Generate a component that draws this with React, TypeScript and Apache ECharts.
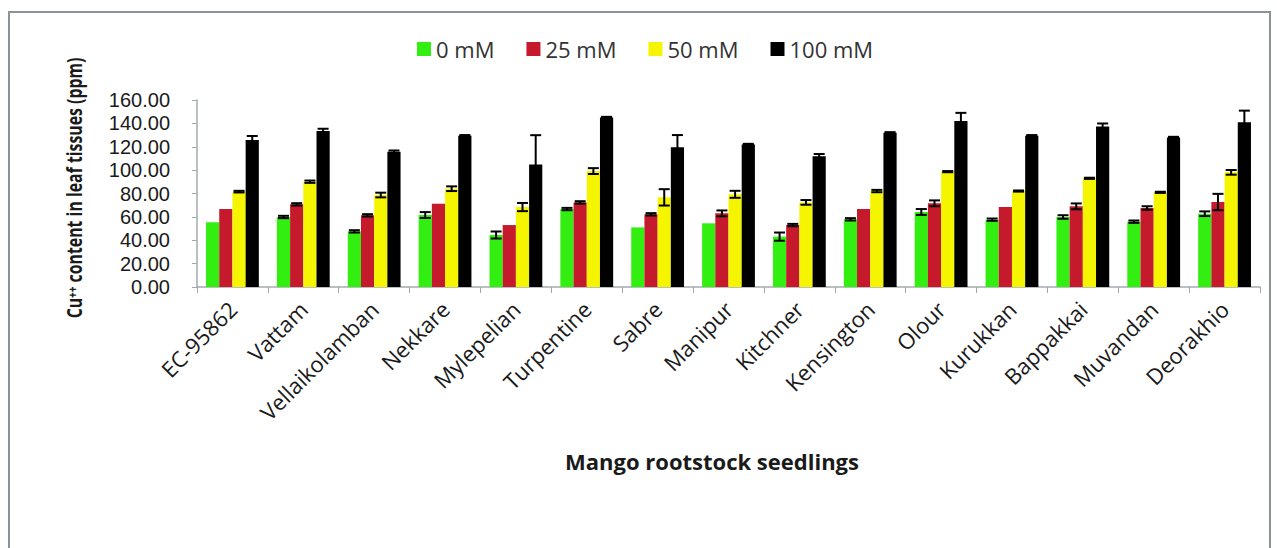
import React, { useEffect, useRef } from "react";
import * as echarts from "echarts";

const categories = [
  "EC-95862", "Vattam", "Vellaikolamban", "Nekkare", "Mylepelian", "Turpentine", "Sabre",
  "Manipur", "Kitchner", "Kensington", "Olour", "Kurukkan", "Bappakkai", "Muvandan", "Deorakhio",
];
const seriesNames = ["0 mM", "25 mM", "50 mM", "100 mM"];
const values0 = [55.3, 59.9, 47.6, 61.6, 44.5, 66.7, 51.0, 54.5, 43.1, 57.9, 64.2, 57.6, 59.9, 55.9, 62.7];
const err0 = [0, 1, 1, 2.5, 3, 1, 0, 0, 3.5, 1, 2.5, 1, 1.5, 1, 2];
const values25 = [66.7, 70.7, 61.3, 71.3, 53.0, 72.4, 62.2, 63.0, 53.0, 66.7, 71.6, 68.4, 69.0, 67.6, 72.7];
const err25 = [0, 1, 1, 0, 0, 1, 1, 2.5, 1, 0, 2.5, 0, 2.5, 1.5, 7];
const values50 = [81.6, 90.1, 78.7, 84.1, 68.4, 99.2, 76.7, 79.3, 72.4, 82.1, 98.7, 82.1, 93.0, 81.0, 98.1];
const err50 = [0.7, 1, 2, 2, 3.5, 2.5, 7, 3, 2, 1, 0.5, 0.5, 0.5, 0.5, 2];
const values100 = [125.7, 133.4, 115.8, 129.5, 104.9, 145.1, 119.5, 122.0, 111.8, 132.0, 142.0, 129.5, 137.4, 128.0, 140.9];
const err100 = [3.5, 2, 1, 0.5, 25, 0.5, 10.5, 0.5, 2, 0.5, 7, 0.5, 2.5, 0.5, 10];

const colors = ["#33ee11", "#c41a2c", "#f5f500", "#000000"];
const allValues = [values0, values25, values50, values100];
const allErrors = [err0, err25, err50, err100];

const BAR_W = 13.2;

export default function App() {
  const ref = useRef<HTMLDivElement>(null);
  useEffect(() => {
    if (!ref.current) return;
    const chart = echarts.init(ref.current, null, { renderer: "svg" });
    const font = "'Open Sans', sans-serif";

    const barSeries = seriesNames.map((name, i) => ({
      name,
      type: "bar",
      data: allValues[i],
      barWidth: BAR_W,
      barGap: "0%",
      itemStyle: { color: colors[i] },
      z: 2,
    }));

    const errSeries = seriesNames.map((name, i) => ({
      name: name + " error",
      type: "custom",
      z: 5,
      data: allValues[i].map((v, k) => [k, v, allErrors[i][k]]),
      renderItem: (params: any, api: any) => {
        const idx = api.value(0);
        const v = api.value(1);
        const e = api.value(2);
        if (!e) return null;
        const top = api.coord([idx, v + e]);
        const bot = api.coord([idx, v - e]);
        const x = top[0] + (i - 1.5) * BAR_W;
        const cap = 5.5;
        const style = { stroke: "#000", lineWidth: 2, fill: null };
        return {
          type: "group",
          children: [
            { type: "line", shape: { x1: x, y1: top[1], x2: x, y2: bot[1] }, style },
            { type: "line", shape: { x1: x - cap, y1: top[1], x2: x + cap, y2: top[1] }, style },
            { type: "line", shape: { x1: x - cap, y1: bot[1], x2: x + cap, y2: bot[1] }, style },
          ],
        };
      },
    }));

    chart.setOption({
      animation: false,
      backgroundColor: "#ffffff",
      legend: {
        data: seriesNames,
        left: 412,
        top: 33,
        itemWidth: 14,
        itemHeight: 14,
        itemGap: 32,
        icon: "rect",
        textStyle: { fontFamily: font, fontSize: 22, color: "#333" },
      },
      grid: { left: 197, right: 17, top: 100, bottom: 261 },
      xAxis: {
        type: "category",
        data: categories,
        axisLine: { lineStyle: { color: "#a3aaae", width: 1.5 } },
        axisTick: { show: true, length: 6, lineStyle: { color: "#a3aaae" } },
        axisLabel: {
          rotate: 45,
          interval: 0,
          margin: 18,
          fontFamily: font,
          fontSize: 22,
          color: "#1a1a1a",
        },
      },
      yAxis: {
        type: "value",
        min: 0,
        max: 160,
        interval: 20,
        axisLine: { show: true, lineStyle: { color: "#a3aaae", width: 1.5 } },
        axisTick: { show: true, length: 5, lineStyle: { color: "#a3aaae" } },
        splitLine: { show: false },
        axisLabel: {
          margin: 27,
          fontFamily: "'Liberation Sans', Arial, sans-serif",
          fontSize: 20,
          color: "#1a1a1a",
          formatter: (v: number) => v.toFixed(2),
        },
      },
      graphic: [
        {
          type: "rect",
          shape: { x: 9, y: 12, width: 1261, height: 600 },
          style: { fill: null, stroke: "#8c9396", lineWidth: 2 },
          silent: true,
        },
        {
          type: "text",
          x: 712,
          y: 461,
          style: {
            text: "Mango rootstock seedlings",
            fontFamily: font,
            fontWeight: "bold",
            fontSize: 22,
            fill: "#1a1a1a",
            textAlign: "center",
            textVerticalAlign: "middle",
          },
        },
        {
          type: "text",
          x: 74,
          y: 188,
          rotation: Math.PI / 2,
          scaleX: 0.72,
          style: {
            text: "Cu\u207A\u207A content in leaf tissues (ppm)",
            fontFamily: font,
            fontWeight: "bold",
            fontSize: 22,
            fill: "#1a1a1a",
            textAlign: "center",
            textVerticalAlign: "middle",
          },
        },
      ],
      series: [...barSeries, ...errSeries],
    });
    return () => chart.dispose();
  }, []);
  return (
    <div
      ref={ref}
      style={{ position: "absolute", left: 0, top: 0, width: 1277, height: 548 }}
    />
  );
}
